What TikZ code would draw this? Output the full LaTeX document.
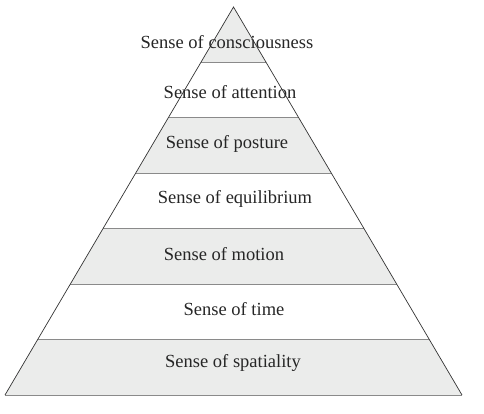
\documentclass[tikz,border=0pt]{standalone}
\usepackage{fontspec}
\setmainfont{Liberation Serif}
\definecolor{bandgray}{HTML}{EBECEB}
\definecolor{rulegray}{HTML}{8A8A8A}
\definecolor{sidegray}{HTML}{333333}
\tikzset{
  label/.style={font=\fontsize{18.5}{22}\selectfont, text=black!85, inner sep=0pt},
}
\begin{document}
\begin{tikzpicture}[x=1pt,y=-1pt]
  \useasboundingbox (0,0) rectangle (484,413);
  \coordinate (top) at (233.5,7);
  \coordinate (bl) at (5,395);
  \coordinate (br) at (462,395);
  \begin{scope}
    \clip (top) -- (bl) -- (br) -- cycle;
    \foreach \ya/\yb in {7/62,117.5/173,228.5/284,339.5/395} {
        \fill [bandgray] (0,\ya) rectangle (484,\yb);
      }
    \foreach \y in {62,117.5,173,228.5,284,339.5} {
        \draw [rulegray, line width=0.8pt] (0,\y) -- (484,\y);
      }
  \end{scope}
  \draw [rulegray, line width=0.8pt] (bl) -- (br);
  \draw [sidegray, line width=0.7pt] (bl) -- (top) -- (br);
  \node [label] (cons) at (227,42) {Sense of consciousness};
  \node [label] (atte) at (230,92) {Sense of attention};
  \node [label] (post) at (227,144) {Sense of posture};
  \node [label] (equi) at (235,199) {Sense of equilibrium};
  \node [label] (moti) at (224,254) {Sense of motion};
  \node [label] (time) at (234,309) {Sense of time};
  \node [label] (spat) at (233,363) {Sense of spatiality};
\end{tikzpicture}
\end{document}
